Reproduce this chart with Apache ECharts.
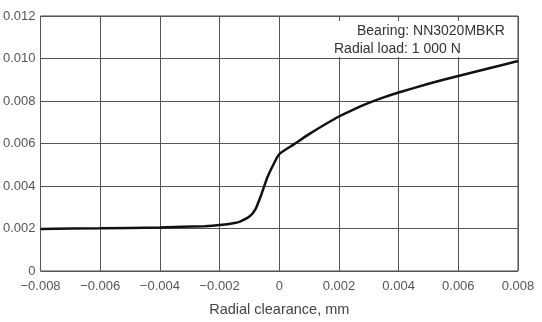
<html>
<head>
    <meta charset='utf-8' />
    <script src="https://cdn.jsdelivr.net/npm/echarts@6.0.0/dist/echarts.min.js"></script>
    <title>Radial clearance</title>
    <style>
        body { margin: 0; background: #fff; overflow: hidden; }
        #chart { width: 542px; height: 322px; }
    </style>
</head>
<body>
    <div id="chart"></div>
    <script type="text/javascript">
        // curve (radial clearance in mm -> value)
        var clearance = [-0.008, -0.006, -0.004, -0.0025, -0.002, -0.0015, -0.0013, -0.001, -0.0008, -0.0006,
            -0.0004, -0.0002, 0, 0.0005, 0.001, 0.0015, 0.002, 0.0025, 0.003, 0.0035, 0.004,
            0.005, 0.006, 0.007, 0.008];
        var values = [0.00198, 0.00201, 0.00205, 0.00211, 0.00216, 0.00226, 0.00234, 0.00256, 0.0029, 0.0036,
            0.0044, 0.0050, 0.0055, 0.00597, 0.00644, 0.00687, 0.00727, 0.00761, 0.00791, 0.00817, 0.0084,
            0.00881, 0.00918, 0.00953, 0.00988];
        var noteLines = ['Bearing: NN3020MBKR', 'Radial load: 1 000 N'];
        var xTitle = 'Radial clearance, mm';

        var points = clearance.map(function(x, i) { return [x, values[i]]; });

        function fmt(v) {
            if (Math.abs(v) < 1e-9) return '0';
            return v.toFixed(3).replace('-', '\u2212');
        }

        var chart = echarts.init(document.getElementById('chart'), null, { renderer: 'canvas' });
        chart.setOption({
            animation: false,
            backgroundColor: '#fff',
            textStyle: { fontFamily: 'Liberation Sans' },
            grid: {
                left: 37, right: 24, top: 16, bottom: 49,
                show: true, borderColor: '#444', borderWidth: 1
            },
            xAxis: {
                type: 'value',
                min: -0.008, max: 0.008, interval: 0.002,
                name: xTitle,
                nameLocation: 'middle',
                nameGap: 31,
                nameTextStyle: { fontSize: 14.5, color: '#444' },
                axisLine: { show: false },
                axisTick: { show: false },
                axisLabel: { formatter: fmt, fontSize: 13, color: '#555', margin: 9 },
                splitLine: { show: true, lineStyle: { color: '#555', width: 1 } }
            },
            yAxis: {
                type: 'value',
                min: 0, max: 0.012, interval: 0.002,
                axisLine: { show: false },
                axisTick: { show: false },
                axisLabel: { formatter: fmt, fontSize: 13, color: '#555', margin: 5 },
                splitLine: { show: true, lineStyle: { color: '#555', width: 1 } }
            },
            graphic: [{
                type: 'rect',
                z: 100,
                shape: { x: 332, y: 21, width: 184, height: 36 },
                style: { fill: '#fff' }
            }, {
                type: 'text',
                z: 101,
                left: 357, top: 24,
                style: { text: noteLines[0], fontSize: 14, fill: '#333', fontFamily: 'Liberation Sans' }
            }, {
                type: 'text',
                z: 101,
                left: 334, top: 42,
                style: { text: noteLines[1], fontSize: 14, fill: '#333', fontFamily: 'Liberation Sans' }
            }],
            series: [{
                type: 'line',
                data: points,
                smooth: 0.2,
                showSymbol: false,
                lineStyle: { color: '#111', width: 2.5 }
            }]
        });
    </script>
</body>
</html>
